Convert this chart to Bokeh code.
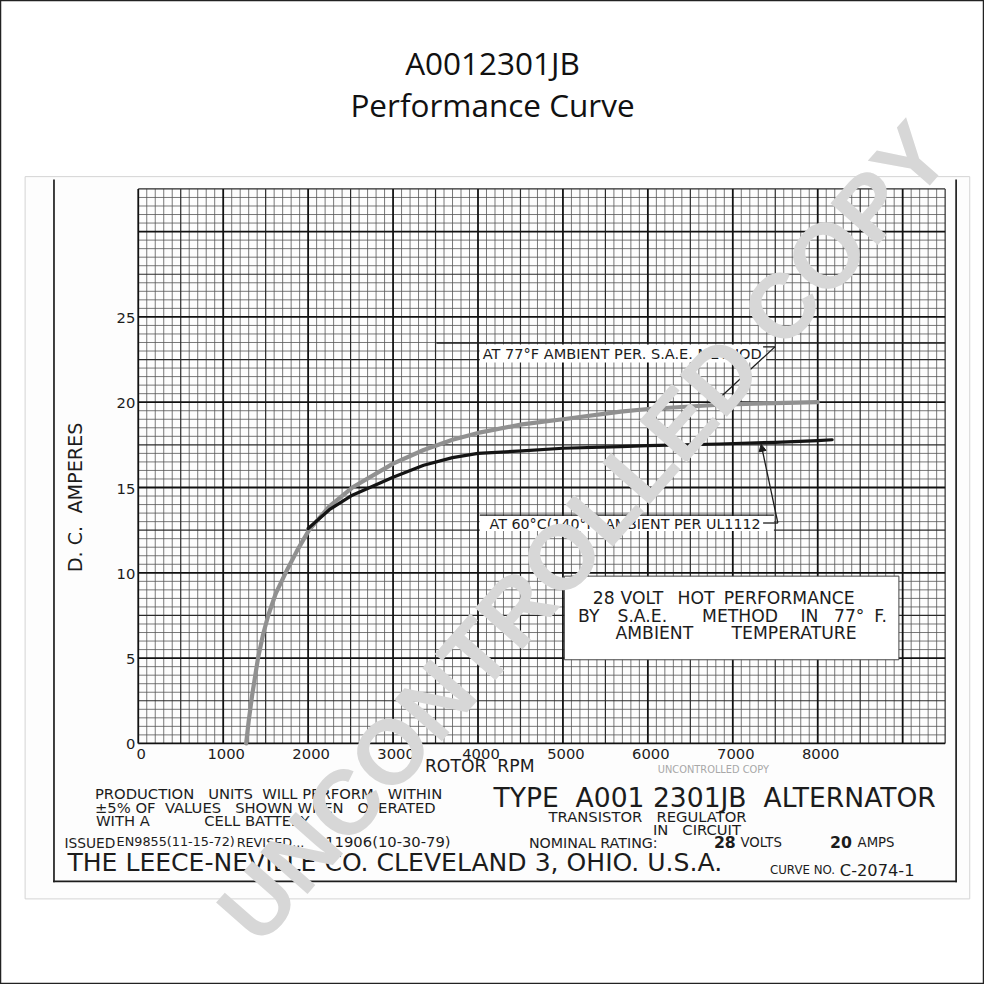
import numpy as np
from bokeh.plotting import figure
from bokeh.models import Range1d, Label, BoxAnnotation, Arrow, NormalHead
from bokeh.embed import file_html
from bokeh.resources import INLINE
from bokeh.core.properties import value

# ---------------- data ----------------
rpm_77 = [1270, 1300, 1340, 1410, 1470, 1530, 1620, 1735, 1870, 2010, 2250, 2520, 3000,
          3360, 3700, 4000, 4520, 5000, 5680, 6000, 6840, 7500, 8000]
amps_77 = [0.0, 1.3, 2.8, 5.0, 6.4, 7.5, 8.8, 10.0, 11.3, 12.5, 13.9, 15.0, 16.4,
           17.2, 17.8, 18.2, 18.7, 19.0, 19.45, 19.6, 19.85, 19.95, 20.0]

rpm_140 = [2000, 2250, 2520, 3000, 3360, 3700, 4000, 4520, 5000, 5680, 6000, 6840,
           7500, 8000, 8170]
amps_140 = [12.6, 13.7, 14.55, 15.6, 16.3, 16.75, 17.0, 17.15, 17.3, 17.4, 17.45, 17.55,
            17.65, 17.75, 17.8]

x_ticks = [0, 1000, 2000, 3000, 4000, 5000, 6000, 7000, 8000]
x_tick_labels = ["0", "1000", "2000", "3000", "4000", "5000", "6000", "7000", "8000"]
y_ticks = [0, 5, 10, 15, 20, 25]
y_tick_labels = ["0", "5", "10", "15", "20", "25"]

X_MAX = 9500
Y_MAX = 32.5

# ---------------- layout (reference pixels, scaled to the canvas) ----------------
W = H = 984
K = W / 1000.0
GX0, GX1 = 140.0, 960.0
GY0, GY1 = 755.0, 191.5
SX = (GX1 - GX0) * K / X_MAX      # canvas px per rpm
SY = (GY0 - GY1) * K / Y_MAX      # canvas px per amp
x_start = -GX0 * K / SX
x_end = x_start + W / SX
y_end = Y_MAX + GY1 * K / SY
y_start = y_end - H / SY

NB = "\u00a0"  # extra (non-collapsing) space used for the wide lettering


def X(px):
    return x_start + px * K / SX


def Y(py):
    return y_end - py * K / SY


p = figure(width=W, height=H, x_range=Range1d(x_start, x_end), y_range=Range1d(y_start, y_end),
           x_axis_type=None, y_axis_type=None, toolbar_location=None, output_backend="svg",
           min_border=0, background_fill_color="white", border_fill_color="white",
           outline_line_color="#222222", outline_line_width=1.5)

INK = "#1c1c1c"
FONT = "DejaVu Sans"


def box(x0, x1, y0, y1, fill="white", line=None, lw=1.0, level="annotation"):
    p.add_layout(BoxAnnotation(left=X(x0), right=X(x1), top=Y(y0), bottom=Y(y1),
                               fill_color=fill, fill_alpha=1.0 if fill else 0.0,
                               line_color=line, line_width=lw, line_alpha=1.0 if line else 0.0,
                               level=level))


def seg(x0, y0, x1, y1, lw=1.4, head=False, color=INK):
    end = NormalHead(size=7, fill_color=color, line_color=color, line_width=1) if head else None
    p.add_layout(Arrow(x_start=X(x0), y_start=Y(y0), x_end=X(x1), y_end=Y(y1), end=end,
                       line_color=color, line_width=lw))


def lab(text, px, py, size, align="left", font=FONT, style="normal", color=INK, angle=0.0):
    p.add_layout(Label(x=X(px), y=Y(py), text=text, text_align=align, text_baseline="middle",
                       text_font=font, text_font_size=f"{size * K:.2f}px", text_font_style=style,
                       text_color=color, angle=angle))


def row(words, py, size, **kw):
    for text, px in words:
        lab(text, px, py, size, **kw)


# sheet of paper and its frame
box(25, 985, 179, 913, fill="#fdfdfd", line="#d4d4d4", lw=1.0, level="underlay")
box(53.5, 55.2, 182, 896, fill=INK, level="underlay")
box(970.3, 972.0, 182, 896, fill=INK, level="underlay")
box(53.5, 972.0, 894.3, 896, fill=INK, level="underlay")

# ---------------- graph-paper grid ----------------
xs = np.arange(0, X_MAX + 1, 100)
ys = np.arange(0, Y_MAX + 0.01, 0.5)
for kind, w, col in [("minor", 0.8, "#555555"), ("mid", 1.2, "#2a2a2a"), ("major", 1.8, "#111111")]:
    if kind == "minor":
        vx = [v for v in xs if v % 500 != 0]
        hy = [v for v in ys if (v * 2) % 5 != 0]
    elif kind == "mid":
        vx = [v for v in xs if v % 500 == 0 and v % 1000 != 0]
        hy = [v for v in ys if (v * 2) % 5 == 0 and v % 5 != 0]
    else:
        vx = [v for v in xs if v % 1000 == 0]
        hy = [v for v in ys if v % 5 == 0]
    p.segment(x0=vx, y0=[0] * len(vx), x1=vx, y1=[Y_MAX] * len(vx), line_color=col, line_width=w)
    p.segment(x0=[0] * len(hy), y0=hy, x1=[X_MAX] * len(hy), y1=hy, line_color=col, line_width=w)

# ---------------- curves ----------------
p.line(rpm_77, amps_77, line_color="#909090", line_width=4.2, line_join="round", line_cap="round")
p.line(rpm_140, amps_140, line_color="#141414", line_width=3.2, line_join="round", line_cap="round")

# ---------------- tick labels ----------------
p.text(x=x_ticks, y=Y(766), text=x_tick_labels, x_offset=3, text_align="center",
       text_baseline="middle", text_font=value(FONT), text_font_size=value(f"{15 * K:.2f}px"),
       text_color=INK)
p.text(x=X(137), y=y_ticks, text=y_tick_labels, y_offset=1, text_align="right",
       text_baseline="middle", text_font=value(FONT), text_font_size=value(f"{15 * K:.2f}px"),
       text_color=INK)

lab(f"D. C.{NB} AMPERES", 76, 505, 19.5, align="center", angle=np.pi / 2)
lab(f"ROTOR{NB} RPM", 487, 778, 17.5, align="center")

# ---------------- in-chart annotations ----------------
seg(443, 348, 960, 348, lw=1.6)
box(487, 778, 349.5, 368)
lab("AT 77°F AMBIENT PER. S.A.E. METHOD", 490, 359, 14.8)
seg(775, 352, 787, 352, lw=1.3)
seg(787, 352, 733, 402, lw=1.3)

box(487, 786, 524, 539)
seg(487, 523, 786, 523, lw=1.3)
lab("AT 60°C(140°F) AMBIENT PER UL1112", 497, 532, 14.5)
seg(775, 531, 790, 531, lw=1.3)
seg(790, 531, 773, 451, lw=1.3, head=True)

box(573, 913, 585, 670, line="#444444", lw=1.0)
row([("28", 602), ("VOLT", 630), ("HOT", 688), ("PERFORMANCE", 735)], 607, 17.5)
row([("BY", 587), ("S.A.E.", 627), ("METHOD", 713), ("IN", 813), ("77°", 847), ("F.", 888)], 626, 17.5)
row([("AMBIENT", 625), ("TEMPERATURE", 743)], 643, 17.5)

# ---------------- title ----------------
lab("A0012301JB", 500, 63, 32, align="center", font="Open Sans", color="#111111")
lab("Performance Curve", 500, 106, 32, align="center", font="Open Sans", color="#111111")

# ---------------- sheet footer text ----------------
lab(f"PRODUCTION{NB}{NB} UNITS{NB} WILL PERFORM{NB}{NB} WITHIN", 96, 806, 15)
lab(f"±5% OF{NB} VALUES{NB}{NB} SHOWN WHEN{NB}{NB} OPERATED", 96, 820, 15)
lab("WITH A", 97, 833, 15)
lab("CELL BATTERY", 207, 833, 15)
lab("ISSUED", 65, 856, 14)
lab("EN9855(11-15-72)", 118, 855, 13)
lab("REVISED...", 240, 856, 13)
lab("11906(10-30-79)", 330, 855, 15)
lab(f"TYPE{NB} A001 2301JB{NB} ALTERNATOR", 501, 810, 27)
lab(f"TRANSISTOR{NB}{NB} REGULATOR", 557, 829, 15)
lab(f"IN{NB}{NB} CIRCUIT", 663, 842, 15)
lab("NOMINAL RATING:", 537, 856, 14.5)
lab("28", 725, 855, 16, style="bold")
lab("VOLTS", 752, 856, 13.5)
lab("20", 843, 855, 16, style="bold")
lab("AMPS", 871, 856, 13.5)
lab("THE LEECE-NEVILLE CO. CLEVELAND 3, OHIO. U.S.A.", 68, 876, 25.5)
lab("CURVE NO.", 782, 884, 12)
lab("C-2074-1", 853, 884, 16.5)
lab("UNCONTROLLED COPY", 668, 782, 10, color="#a8a8a8")

# ---------------- watermark ----------------
lab("UNCONTROLLED COPY", 592, 540, 93, align="center", font="Liberation Sans", style="bold",
    color="#d7d7d7", angle=0.85)

open("out.html", "w").write(file_html(p, INLINE))
